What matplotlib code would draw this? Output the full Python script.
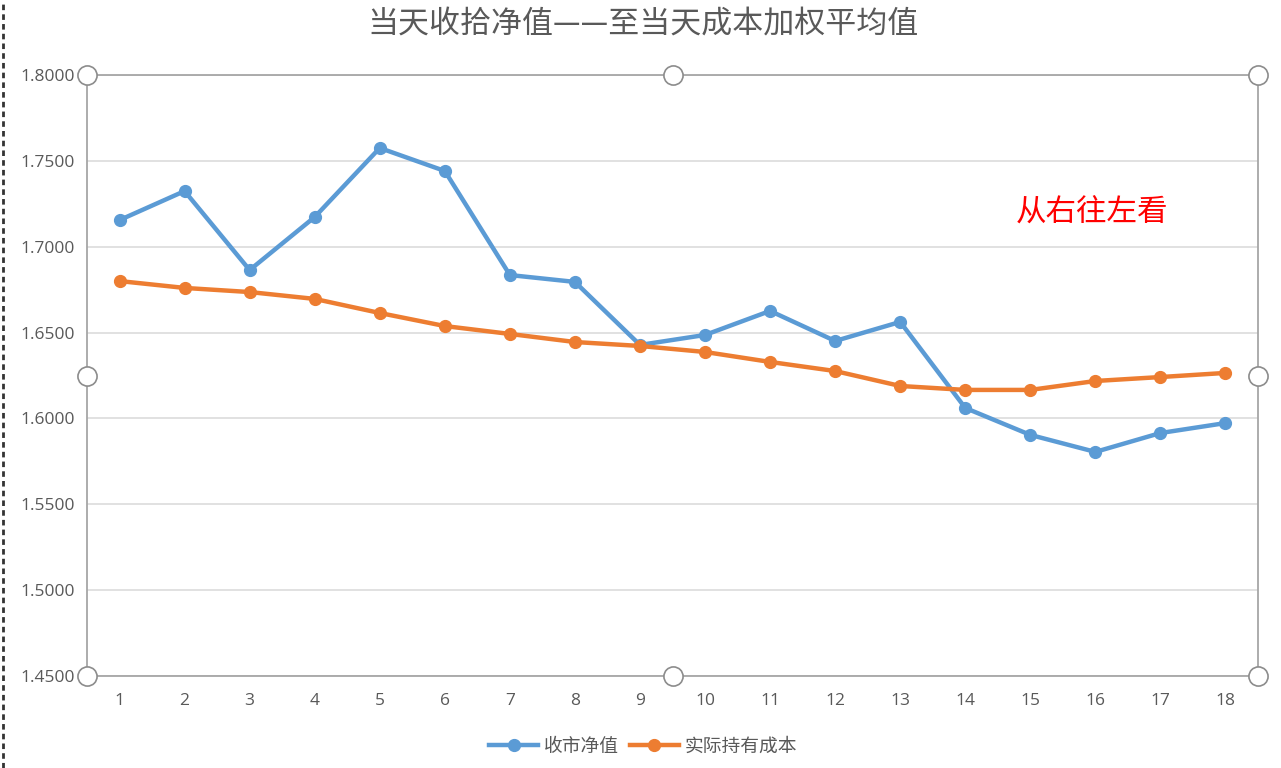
import matplotlib
matplotlib.use("Agg")
import matplotlib.pyplot as plt
from matplotlib.lines import Line2D

plt.rcParams['font.family'] = ['Noto Sans CJK SC', 'DejaVu Sans']

days = list(range(1, 19))
close_nav = [1.7155, 1.7324, 1.6864, 1.7173, 1.7575, 1.7441, 1.6835, 1.6795, 1.6428,
             1.6486, 1.6626, 1.6451, 1.6562, 1.6061, 1.5904, 1.5805, 1.5915, 1.5973]
hold_cost = [1.6800, 1.6760, 1.6736, 1.6696, 1.6614, 1.6538, 1.6492, 1.6445, 1.6422,
             1.6387, 1.6329, 1.6276, 1.6189, 1.6166, 1.6166, 1.6218, 1.6241, 1.6265]
y_ticks = [1.45, 1.50, 1.55, 1.60, 1.65, 1.70, 1.75, 1.80]
series_names = ['收市净值', '实际持有成本']
title = '当天收拾净值——至当天成本加权平均值'
note = '从右往左看'

fig = plt.figure(figsize=(12.81, 7.68), dpi=100)
ax = fig.add_axes([87/1281, 1-676/768, (1258-87)/1281, (676-75)/768])

xs = list(range(len(days)))
ax.plot(xs, close_nav, color='#5B9BD5', lw=3.2, marker='o', ms=8.5, label=series_names[0], zorder=3)
ax.plot(xs, hold_cost, color='#ED7D31', lw=3.2, marker='o', ms=8.5, label=series_names[1], zorder=3)

ax.set_xlim(-0.5, len(days) - 0.5)
ax.set_ylim(1.45, 1.80)
ax.set_yticks(y_ticks)
ax.set_yticklabels([f'{v:.4f}' for v in y_ticks])
ax.set_xticks(xs)
ax.set_xticklabels([str(d) for d in days])
ax.yaxis.grid(True, color='#D9D9D9', lw=1.1)
ax.set_axisbelow(True)
ax.tick_params(length=0, labelsize=12.5, colors='#595959')
ax.tick_params(axis='y', pad=9)
ax.tick_params(axis='x', pad=12)
for lab in ax.get_xticklabels() + ax.get_yticklabels():
    lab.set_family(['Open Sans', 'DejaVu Sans'])
for s in ax.spines.values():
    s.set_color('#A6A6A6')
    s.set_linewidth(1.3)

# selection handles
hx = [0, 0.5, 1, 0, 1, 0, 0.5, 1]
hy = [1, 1, 1, 0.5, 0.5, 0, 0, 0]
ax.scatter(hx, hy, s=190, facecolor='white', edgecolor='#8C8C8C', lw=1.2,
           transform=ax.transAxes, clip_on=False, zorder=5)

ax.text(1092/1281, 1-213/768, note, transform=fig.transFigure, color='red',
        fontsize=22, fontweight='medium', ha='center', va='center')

fig.text(643/1281, 1-25/768, title, ha='center', va='center', fontsize=22.3,
         color='#595959', fontweight='light')

leg = ax.legend(loc='center', bbox_to_anchor=(643/1281, 1-746/768),
                bbox_transform=fig.transFigure, ncol=2, frameon=False,
                fontsize=13.5, handlelength=2.6, columnspacing=0.6, handletextpad=0.3)
for t in leg.get_texts():
    t.set_color('#595959')

fig.add_artist(Line2D([2.5/1281, 2.5/1281], [0, 1], transform=fig.transFigure,
                      color='#333333', lw=2, ls=(0, (2, 1.5))))

fig.savefig('out.png', dpi=100)
